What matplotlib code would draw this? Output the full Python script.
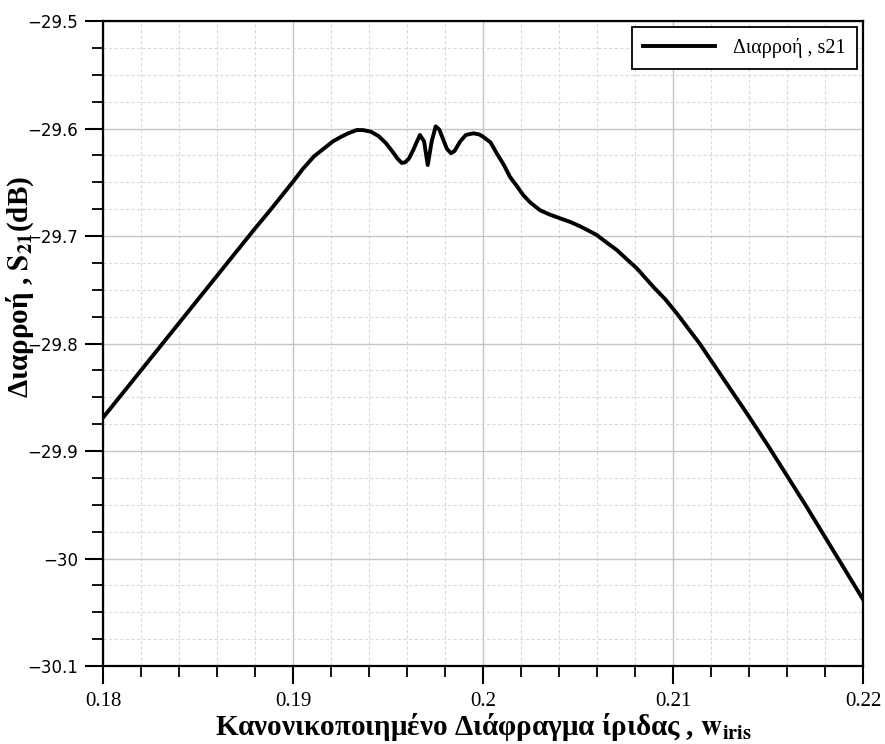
import matplotlib
matplotlib.use('Agg')
import matplotlib.pyplot as plt
from matplotlib.ticker import MultipleLocator, FixedLocator

plt.rcParams['font.family'] = ['Liberation Serif', 'DejaVu Serif']
plt.rcParams['mathtext.fontset'] = 'stix'

# normalised iris width and leakage S21 (dB)
w_iris = [0.1800, 0.1820, 0.1840, 0.1860, 0.1880, 0.1888, 0.1900, 0.1905,
          0.1911, 0.1916, 0.1921, 0.1925, 0.1929, 0.19335, 0.1937, 0.1941,
          0.1945, 0.1949, 0.1953, 0.1955, 0.19572, 0.1959, 0.1961, 0.19633,
          0.1965, 0.19668, 0.1969, 0.19709, 0.1973, 0.19751, 0.1977, 0.1979,
          0.1981, 0.19832, 0.1985, 0.1988, 0.1991, 0.19949, 0.1998, 0.2000,
          0.2004, 0.20072, 0.2011, 0.20142, 0.2018, 0.20212, 0.2025, 0.2030,
          0.2035, 0.20405, 0.2046, 0.20511, 0.2055, 0.20598, 0.2065, 0.20704,
          0.2075, 0.20809, 0.2090, 0.2096, 0.2102, 0.2108, 0.2114, 0.2127,
          0.2140, 0.2150, 0.2160, 0.2170, 0.2180, 0.2190, 0.2200]
s21 = [-29.869, -29.825, -29.781, -29.737, -29.693, -29.676, -29.6495, -29.638,
       -29.626, -29.619, -29.612, -29.608, -29.6045, -29.6014, -29.6015, -29.603,
       -29.607, -29.6138, -29.623, -29.628, -29.632, -29.6315, -29.628, -29.620,
       -29.613, -29.606, -29.612, -29.634, -29.612, -29.598, -29.601, -29.610,
       -29.619, -29.623, -29.621, -29.612, -29.606, -29.6045, -29.6055, -29.6076,
       -29.613, -29.623, -29.634, -29.645, -29.654, -29.662, -29.669, -29.676,
       -29.680, -29.6835, -29.687, -29.691, -29.6945, -29.699, -29.706, -29.713,
       -29.7205, -29.730, -29.748, -29.759, -29.772, -29.786, -29.800, -29.834,
       -29.868, -29.895, -29.923, -29.951, -29.980, -30.009, -30.038]

x_ticks = [0.18, 0.19, 0.2, 0.21, 0.22]
x_tick_labels = ['0.18', '0.19', '0.2', '0.21', '0.22']
y_ticks = [-30.1, -30.0, -29.9, -29.8, -29.7, -29.6, -29.5]
y_tick_labels = ['\u221230.1', '\u221230', '\u221229.9', '\u221229.8',
                 '\u221229.7', '\u221229.6', '\u221229.5']

fig = plt.figure(figsize=(8.85, 7.44), dpi=100)
ax = fig.add_axes([103 / 885, 1 - 666 / 744, 760 / 885, 645 / 744])

ax.plot(w_iris, s21, color='black', linewidth=2.8, label='Διαρροή , s21',
        solid_joinstyle='round')

ax.set_xlim(0.18, 0.22)
ax.set_ylim(-30.1, -29.5)
ax.xaxis.set_major_locator(FixedLocator(x_ticks))
ax.set_xticklabels(x_tick_labels)
ax.xaxis.set_minor_locator(MultipleLocator(0.002))
ax.yaxis.set_major_locator(FixedLocator(y_ticks))
ax.set_yticklabels(y_tick_labels, family=['DejaVu Sans'])
ax.yaxis.set_minor_locator(MultipleLocator(0.025))

ax.tick_params(which='major', direction='out', length=13, width=1.5, labelsize=12, pad=5)
ax.tick_params(which='minor', direction='out', length=8, width=1.3)
ax.tick_params(axis='x', labelsize=15, pad=6)

ax.grid(which='major', color='#c4c4c4', linestyle='-', linewidth=1.0)
ax.grid(which='minor', color='#dadada', linestyle=(0, (3, 2)), linewidth=0.8)
ax.set_axisbelow(True)
for sp in ax.spines.values():
    sp.set_linewidth(1.6)
    sp.set_color('black')

ax.set_xlabel('Κανονικοποιημένο Διάφραγμα ίριδας , $\\mathbf{w_{iris}}$',
              fontsize=21, fontweight='bold', labelpad=0)
ax.set_ylabel('Διαρροή , $\\mathbf{S_{21}}$(dB)', fontsize=21, fontweight='bold')
ax.yaxis.set_label_coords(-0.088, 0.588)

leg = ax.legend(loc='upper right', fontsize=14.5, frameon=True, fancybox=False,
                borderpad=0.55, handlelength=3.6, handletextpad=0.9,
                borderaxespad=0.3)
leg.get_frame().set_edgecolor('black')
leg.get_frame().set_linewidth(1.3)
leg.get_frame().set_alpha(1)

fig.savefig('out.png', dpi=100)
